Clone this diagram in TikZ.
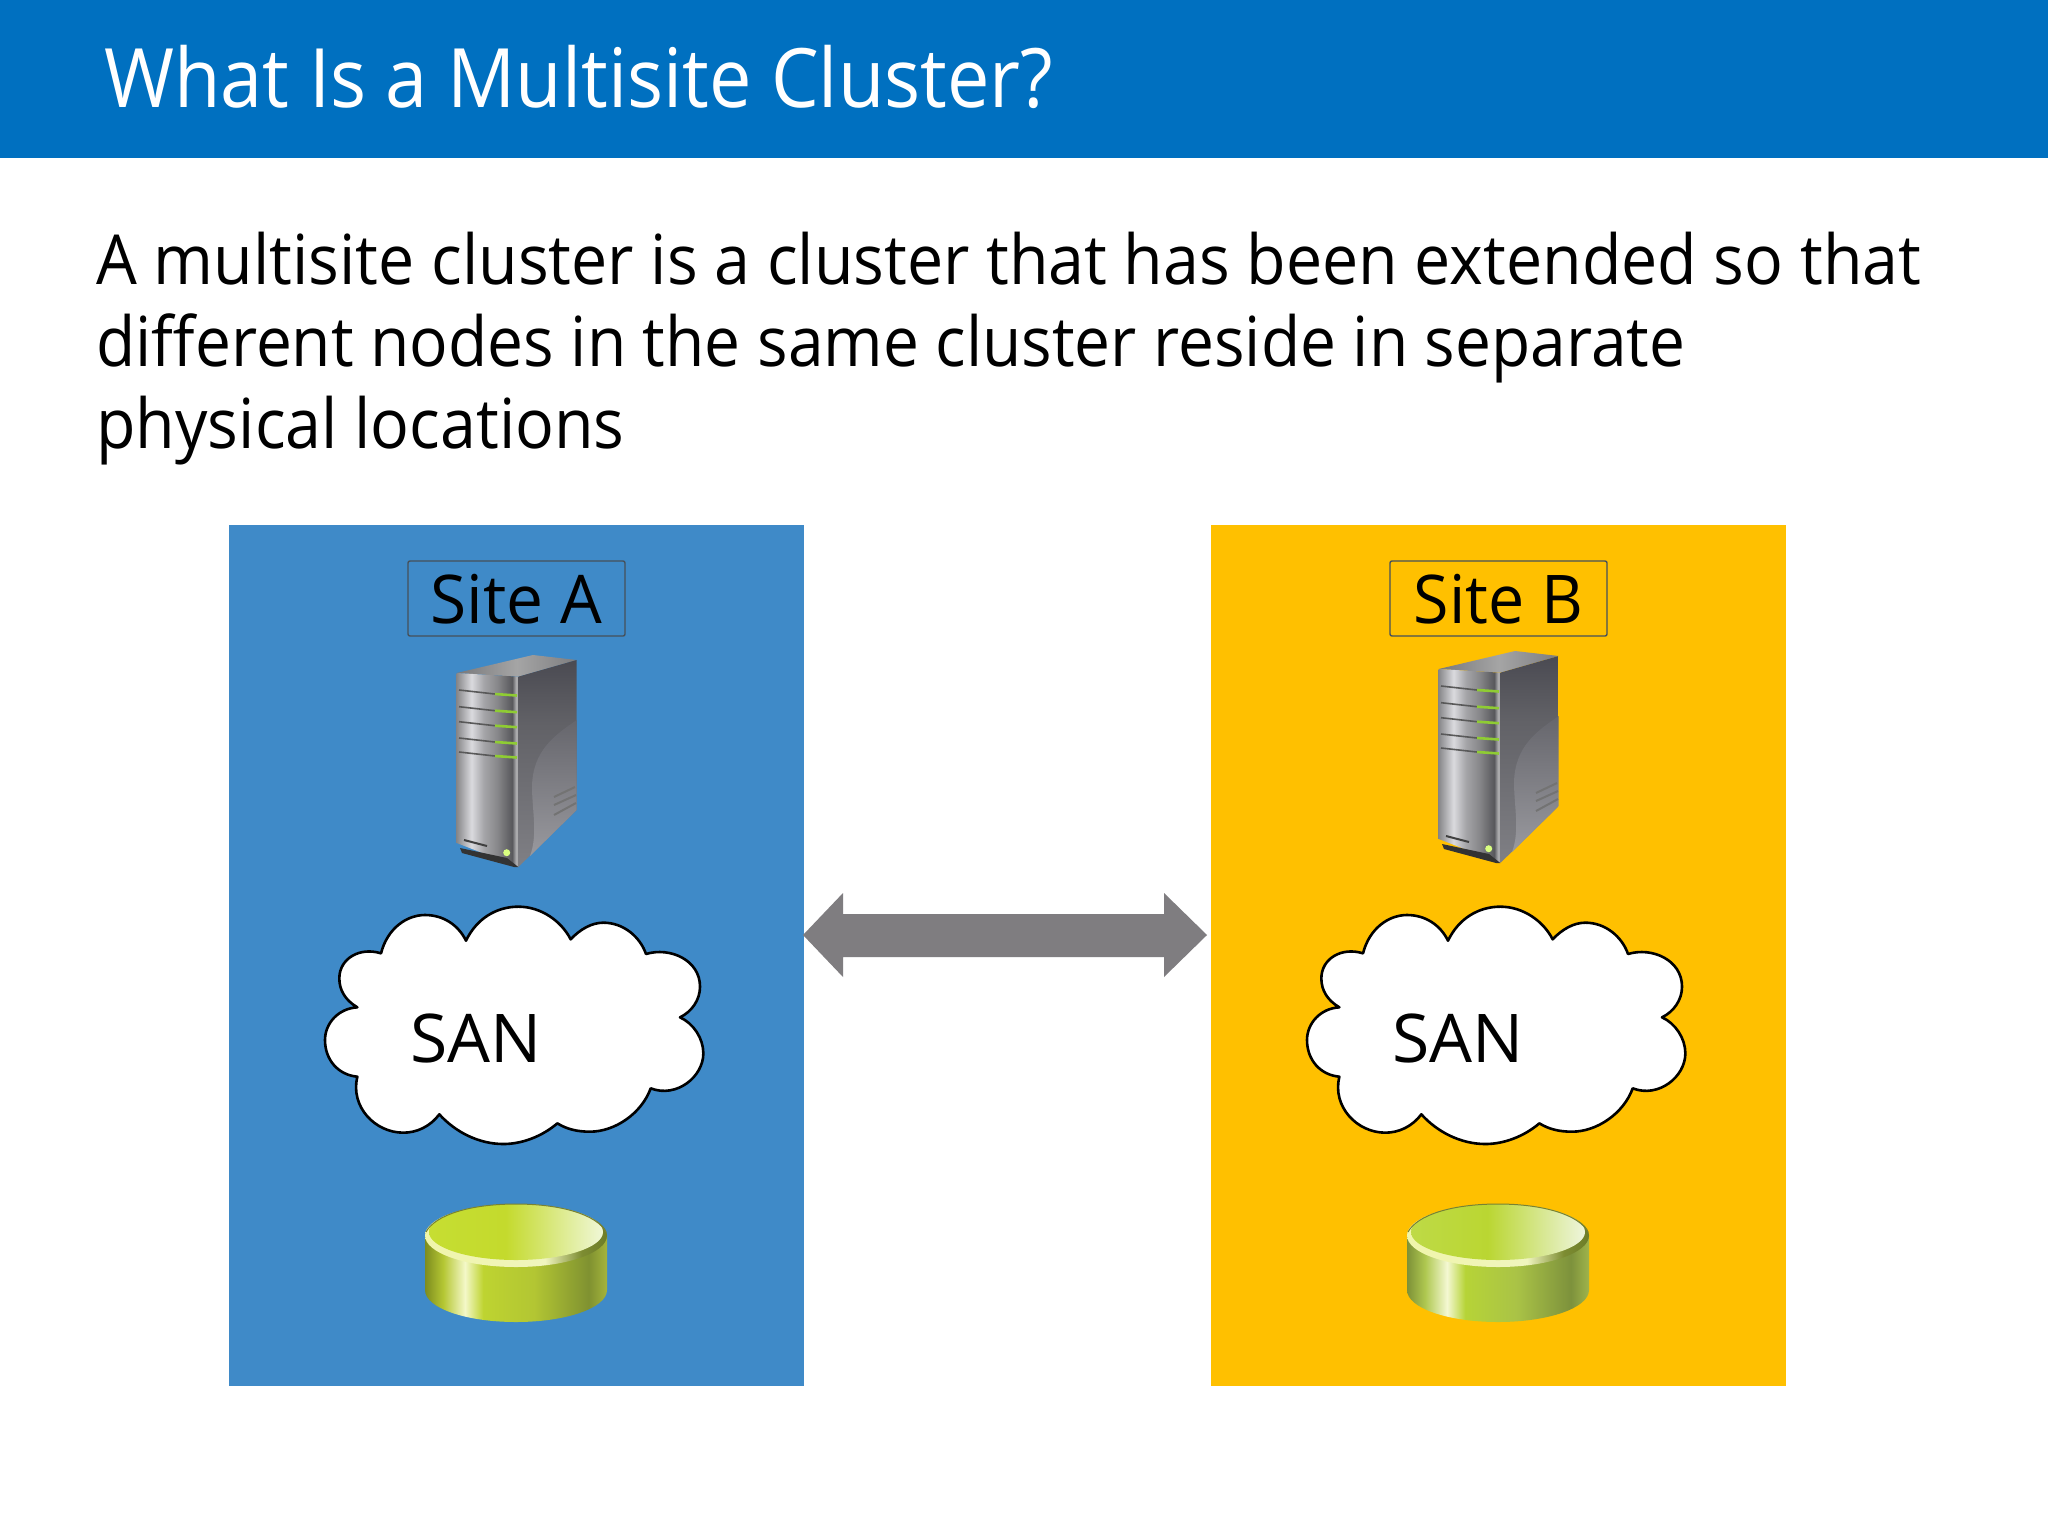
\documentclass[tikz,border=0pt]{standalone}
\usepackage{fontspec}
\setmainfont[FakeStretch=0.934]{Open Sans}
\newfontfamily\lineBfont[FakeStretch=0.928]{Open Sans}
\newfontfamily\titlefont[FakeStretch=0.922]{Open Sans}
\newfontfamily\sitefont[FakeStretch=0.98]{Open Sans}
\newfontfamily\siteBfont[FakeStretch=0.96]{Open Sans}
\newfontfamily\sanfont[FakeStretch=1.01]{Open Sans}
\definecolor{headerblue}{RGB}{0,112,192}
\definecolor{siteblue}{RGB}{63,138,200}
\definecolor{siteyellow}{RGB}{255,192,0}
\definecolor{arrowgray}{RGB}{127,125,128}
\definecolor{boxedge}{RGB}{70,80,90}
\definecolor{diskedge}{RGB}{120,130,50}
\pgfdeclarehorizontalshading{srvfront}{100bp}{rgb(0bp)=(.53,.53,.54);rgb(25bp)=(.53,.53,.54);rgb(37bp)=(.855,.855,.87);rgb(47bp)=(.647,.647,.66);rgb(58bp)=(.53,.53,.54);rgb(70bp)=(.345,.345,.36);rgb(73bp)=(.667,.667,.675);rgb(75bp)=(.667,.667,.675);rgb(100bp)=(.667,.667,.675)}
\pgfdeclareverticalshading{srvside}{100bp}{rgb(0bp)=(.5,.5,.52);rgb(25bp)=(.5,.5,.52);rgb(60bp)=(.38,.38,.4);rgb(75bp)=(.29,.29,.32);rgb(100bp)=(.29,.29,.32)}
\pgfdeclareverticalshading{srvswoosh}{100bp}{rgb(0bp)=(.6,.6,.62);rgb(25bp)=(.6,.6,.62);rgb(75bp)=(.4,.4,.425);rgb(100bp)=(.4,.4,.425)}
\pgfdeclarehorizontalshading{srvtop}{100bp}{rgb(0bp)=(.47,.47,.48);rgb(25bp)=(.47,.47,.48);rgb(50bp)=(.647,.647,.647);rgb(75bp)=(.49,.49,.5);rgb(100bp)=(.49,.49,.5)}
\pgfdeclarehorizontalshading{diskbodyA}{100bp}{rgb(0bp)=(.49,.55,.12);rgb(25bp)=(.49,.55,.12);rgb(30bp)=(.71,.78,.2);rgb(36bp)=(.957,.973,.784);rgb(41bp)=(.745,.83,.19);rgb(55bp)=(.7,.776,.2);rgb(70bp)=(.5,.57,.19);rgb(75bp)=(.647,.706,.235);rgb(100bp)=(.647,.706,.235)}
\pgfdeclarehorizontalshading{diskbodyB}{100bp}{rgb(0bp)=(.49,.57,.216);rgb(25bp)=(.49,.57,.216);rgb(30bp)=(.686,.784,.314);rgb(36bp)=(.957,.973,.824);rgb(41bp)=(.714,.83,.216);rgb(55bp)=(.667,.765,.275);rgb(70bp)=(.49,.57,.235);rgb(75bp)=(.627,.706,.294);rgb(100bp)=(.627,.706,.294)}
\pgfdeclarehorizontalshading{diskrim}{100bp}{rgb(0bp)=(.94,.96,.667);rgb(25bp)=(.94,.96,.667);rgb(58bp)=(.94,.96,.745);rgb(68bp)=(.49,.55,.196);rgb(75bp)=(.43,.49,.157);rgb(100bp)=(.43,.49,.157)}
\pgfdeclarehorizontalshading{disktopA}{100bp}{rgb(0bp)=(.776,.87,.196);rgb(25bp)=(.776,.87,.196);rgb(47bp)=(.769,.855,.176);rgb(75bp)=(.94,.97,.843);rgb(100bp)=(.94,.97,.843)}
\pgfdeclarehorizontalshading{disktopB}{100bp}{rgb(0bp)=(.745,.855,.275);rgb(25bp)=(.745,.855,.275);rgb(47bp)=(.73,.84,.196);rgb(75bp)=(.933,.96,.863);rgb(100bp)=(.933,.96,.863)}
\tikzset{
  x=0.5pt,y=-0.5pt,
  paneltext/.style={inner sep=0pt,anchor=base west,text=black},
  sitelabel/.style={draw=boxedge,line width=0.7pt,rounded corners=1pt,minimum width=108.5pt,minimum height=37.5pt,inner sep=0pt,text height=24.5pt,text depth=0pt,font=\sitefont\fontsize{33.6}{40}\selectfont,text=black},
  cloudshape/.style={fill=white,draw=black,line width=1.3pt,line join=round},
  slot/.style={line width=0.8pt,draw=black!65},
  slotled/.style={line width=1.3pt,draw=green!40!yellow!60!gray},
  vent/.style={line width=1pt,draw=black!55},
}
\newcommand{\serverdraw}{%
  \shade[shading=srvtop] (456.7,673) -- (533,655) -- (576.7,660) -- (518.3,676.7) -- cycle;
  \shade[shading=srvfront] (456.7,673) -- (518.3,676.7) -- (518.3,867) -- (456.7,843) -- cycle;
  \shade[shading=srvside] (518.3,676.7) -- (576.7,660) -- (576.7,810) -- (518.3,867) -- cycle;
  \shade[shading=srvswoosh] (532,786) .. controls (533,750) and (555,735) .. (576.7,720) -- (576.7,810) -- (530,856) .. controls (538,835) and (532,810) .. (532,786) -- cycle;
  \fill[black!80] (460,848) -- (507,858) -- (518.3,867) -- (514,867) -- (462,853) -- cycle;
  \foreach \yy in {690,706.7,721.7,738,752} {
    \draw[slot] (459,\yy) -- (495,\yy+4);
    \draw[slotled] (495,\yy+4) -- (517,\yy+5.5);
  }
  \draw[vent] (554,797) -- (575,787);
  \draw[vent] (554,805) -- (576,795);
  \draw[vent] (554,815) -- (576,803);
  \draw[line width=1pt,black!75] (464,840) -- (487,846);
  \fill[green!30!yellow!50!white] (506.7,852.7) circle (3.5);
}
\newcommand{\cloudpath}{%
  (243,190) .. controls (262,115) and (320,75) .. (375,75)
  .. controls (430,75) and (475,105) .. (498,152)
  .. controls (530,85) and (590,50) .. (655,50)
  .. controls (725,50) and (785,95) .. (812,148)
  .. controls (840,118) and (875,98) .. (910,98)
  .. controls (970,98) and (1020,140) .. (1038,192)
  .. controls (1110,170) and (1200,210) .. (1200,290)
  .. controls (1200,330) and (1175,365) .. (1140,382)
  .. controls (1180,400) and (1210,445) .. (1210,490)
  .. controls (1210,560) and (1130,625) .. (1052,595)
  .. controls (1025,670) and (945,725) .. (870,725)
  .. controls (830,725) and (800,717) .. (772,700)
  .. controls (725,740) and (665,762) .. (610,762)
  .. controls (535,762) and (465,725) .. (418,673)
  .. controls (390,710) and (350,728) .. (310,728)
  .. controls (225,728) and (150,650) .. (172,560)
  .. controls (115,555) and (75,510) .. (75,450)
  .. controls (75,400) and (115,355) .. (172,352)
  .. controls (135,330) and (118,300) .. (118,265)
  .. controls (118,205) and (180,170) .. (243,190) -- cycle}
\newcommand{\diskdraw}[2]{%
  \shade[shading=#1] (425,1235) -- (425,1290) .. controls (425,1308) and (466,1322) .. (516,1322) .. controls (566,1322) and (607,1308) .. (607,1290) -- (607,1235) -- cycle;
  \shade[shading=diskrim] (516,1235.5) ellipse [x radius=91,y radius=31.5];
  \shade[shading=#2] (516,1232) ellipse [x radius=87,y radius=28];
  \draw[diskedge,line width=0.5pt] (426,1232) .. controls (435,1215) and (470,1204) .. (516,1204) .. controls (562,1204) and (597,1215) .. (606,1232);
}
\begin{document}
\begin{tikzpicture}
\useasboundingbox (0,0) rectangle (2048,1536);
\fill[white] (0,0) rectangle (2048,1536);
\fill[headerblue] (0,0) rectangle (2048,158);
\node[paneltext,text=white,font=\titlefont\fontsize{41}{48}\selectfont] (title) at (104,107) {What Is a Multisite Cluster?};
\node[paneltext,font=\fontsize{34.5}{41}\selectfont] (line1) at (96,284) {A multisite cluster is a cluster that has been extended so that};
\node[paneltext,font=\lineBfont\fontsize{34.5}{41}\selectfont] (line2) at (96,366) {different nodes in the same cluster reside in separate};
\node[paneltext,font=\fontsize{34.5}{41}\selectfont] (line3) at (96,448) {physical locations};

\fill[siteblue] (228.5,525) rectangle (803.5,1386);
\fill[siteyellow] (1211,525) rectangle (1786,1386);
\coordinate (panelAedge) at (803,935);
\coordinate (panelBedge) at (1207,935);

\node[sitelabel] (siteA) at (516.5,598.5) {Site A};
\node[sitelabel,font=\siteBfont\fontsize{33.6}{40}\selectfont] (siteB) at (1498.5,598.5) {Site B};

\serverdraw
\begin{scope}[shift={(982,-4)}]
  \serverdraw
\end{scope}

\begin{scope}[shift={(300,890)},x=0.16667pt,y=-0.16667pt]
  \draw[cloudshape] \cloudpath;
\end{scope}
\begin{scope}[shift={(1282,890)},x=0.16667pt,y=-0.16667pt]
  \draw[cloudshape] \cloudpath;
\end{scope}
\node[paneltext,font=\sanfont\fontsize{33.6}{40}\selectfont] (sanA) at (410,1062) {SAN};
\node[paneltext,font=\sanfont\fontsize{33.6}{40}\selectfont] (sanB) at (1392,1062) {SAN};

\diskdraw{diskbodyA}{disktopA}
\begin{scope}[shift={(982,0)}]
  \diskdraw{diskbodyB}{disktopB}
\end{scope}

\fill[arrowgray] (panelAedge) -- (843,893) -- (843,914) -- (1164,914) -- (1164,893) -- (panelBedge) -- (1164,977) -- (1164,957) -- (843,957) -- (843,977) -- cycle;
\end{tikzpicture}
\end{document}
